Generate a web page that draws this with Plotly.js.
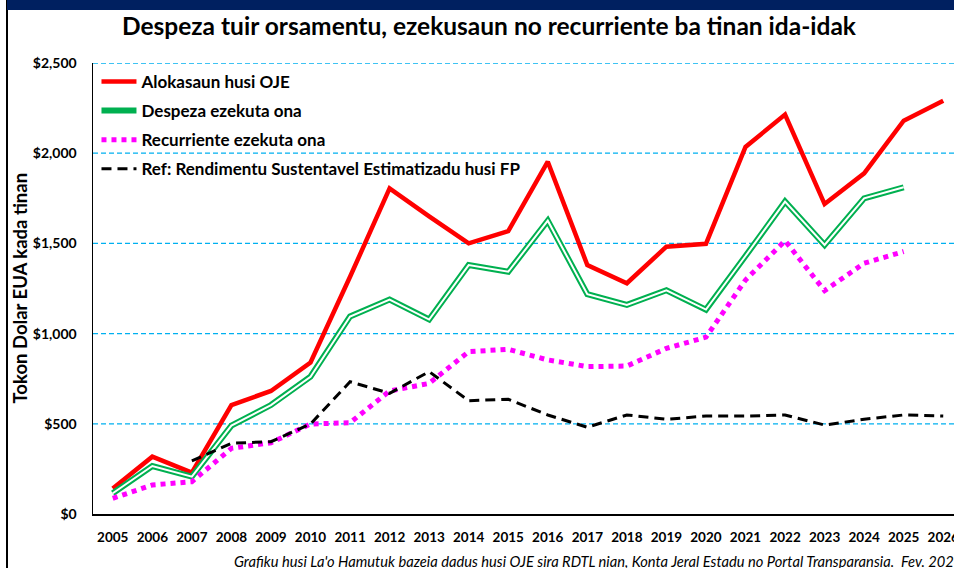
<!DOCTYPE html>
<html>
<head>
<meta charset="utf-8">
<script src="https://cdn.plot.ly/plotly-3.0.1.min.js"></script>
<style>
  html, body { margin:0; padding:0; overflow:hidden; background:#fff; width:954px; height:568px; }
  #chart { position:absolute; left:0; top:0; }
  #topbar { position:absolute; left:7px; top:0; width:947px; height:10px; background:#002060; z-index:5; }
  #leftbar { position:absolute; left:6px; top:0; width:2px; height:568px; background:#000; z-index:4; }
</style>
</head>
<body>
<div id="chart"></div>
<div id="leftbar"></div>
<div id="topbar"></div>
<script>
const years = ['2005','2006','2007','2008','2009','2010','2011','2012','2013','2014','2015','2016','2017','2018','2019','2020','2021','2022','2023','2024','2025','2026'];
const alokasaun = [142, 318, 229, 604, 682, 840, 1315, 1805, 1650, 1500, 1568, 1953, 1380, 1279, 1482, 1498, 2035, 2214, 1718, 1888, 2180, 2291];
const despeza = [115, 266, 207, 490, 604, 761, 1095, 1189, 1078, 1380, 1343, 1626, 1218, 1159, 1240, 1133, 1430, 1732, 1491, 1750, 1811, null];
const recurriente = [87, 161, 179, 364, 395, 499, 506, 682, 724, 900, 913, 854, 817, 820, 918, 980, 1297, 1515, 1238, 1390, 1455, null];
const referensia = [null, null, 294, 392, 401, 499, 733, 669, 789, 628, 636, 549, 481, 549, 525, 543, 543, 549, 493, 525, 549, 543];
const yTickVals = [0, 500, 1000, 1500, 2000, 2500];
const yTickText = ['$0', '$500', '$1,000', '$1,500', '$2,000', '$2,500'];

const FONT = 'Lato, "Open Sans", sans-serif';
const GRID = '#00B0F0';

const traces = [
  { x: years, y: alokasaun, type: 'scatter', mode: 'lines', name: 'Alokasaun husi OJE',
    legendgroup: 'a', line: { color: '#FF0000', width: 4.5 } },
  { x: years, y: despeza, type: 'scatter', mode: 'lines', name: 'Despeza ezekuta ona',
    legendgroup: 'b', line: { color: '#00B050', width: 6 } },
  { x: years, y: despeza, type: 'scatter', mode: 'lines', name: 'Despeza ezekuta ona',
    legendgroup: 'b', showlegend: false, line: { color: '#FFFFFF', width: 2 } },
  { x: years, y: recurriente, type: 'scatter', mode: 'lines', name: 'Recurriente ezekuta ona',
    legendgroup: 'c', line: { color: '#FF00FF', width: 5, dash: 'dot' } },
  { x: years, y: referensia, type: 'scatter', mode: 'lines', name: 'Ref: Rendimentu Sustentavel Estimatizadu husi FP',
    legendgroup: 'd', line: { color: '#000000', width: 3, dash: '10px,6px' } }
];

const gridShapes = yTickVals.filter(v => v > 0).map(v => ({
  type: 'line', xref: 'paper', yref: 'y', x0: 0, x1: 1, y0: v, y1: v, layer: 'below',
  line: { color: GRID, width: 1.3, dash: '5px,3px' }
}));

const layout = {
  width: 1000, height: 568,
  margin: { l: 93, r: 37, t: 63, b: 54 },
  paper_bgcolor: 'rgba(0,0,0,0)', plot_bgcolor: '#FFFFFF',
  font: { family: FONT, color: '#000' },
  title: { text: '<b>Despeza tuir orsamentu, ezekusaun no recurriente ba tinan ida-idak</b>',
    font: { family: FONT, size: 24.5, color: '#000' },
    xref: 'container', yref: 'container', x: 0.489, xanchor: 'center', y: 1 - 26/568, yanchor: 'middle' },
  xaxis: {
    type: 'category', categoryorder: 'array', categoryarray: years,
    range: [-0.5, 21.5], showgrid: false, zeroline: false,
    showline: true, linecolor: '#000', linewidth: 1.5, ticks: '',
    tickfont: { family: FONT, size: 13.5, color: '#000', weight: 'bold' },
    ticklabelstandoff: 10, fixedrange: true
  },
  yaxis: {
    range: [0, 2500], tickvals: yTickVals, ticktext: yTickText,
    showgrid: false, zeroline: false, showline: true, linecolor: '#000', linewidth: 1.5, ticks: '',
    tickfont: { family: FONT, size: 14, color: '#000', weight: 'bold' },
    ticklabelstandoff: 12, fixedrange: true
  },
  shapes: gridShapes,
  legend: {
    x: 0.004, xanchor: 'left', y: 0.998, yanchor: 'top',
    bgcolor: 'rgba(0,0,0,0)', borderwidth: 0, itemwidth: 35,
    traceorder: 'grouped', tracegroupgap: 4,
    font: { family: FONT, size: 17, color: '#000', weight: 'bold' }
  },
  annotations: [
    { text: '<b>Tokon Dolar EUA kada tinan</b>', xref: 'paper', yref: 'paper',
      x: (19 - 93) / 870, y: 0.5, xanchor: 'center', yanchor: 'middle', textangle: -90,
      showarrow: false, font: { family: FONT, size: 18.5, color: '#000' } },
    { text: "<i>Grafiku husi La'o Hamutuk bazeia dadus husi OJE sira RDTL nian, Konta Jeral Estadu no Portal Transparansia.  Fev. 2026</i>",
      xref: 'paper', yref: 'paper', x: (232 - 93) / 870, y: -(561 - 514) / 451,
      xanchor: 'left', yanchor: 'middle', showarrow: false,
      font: { family: FONT, size: 14.7, color: '#000' } }
  ],
  showlegend: true
};

Plotly.newPlot('chart', traces, layout, { displayModeBar: false, staticPlot: true });
</script>
</body>
</html>
